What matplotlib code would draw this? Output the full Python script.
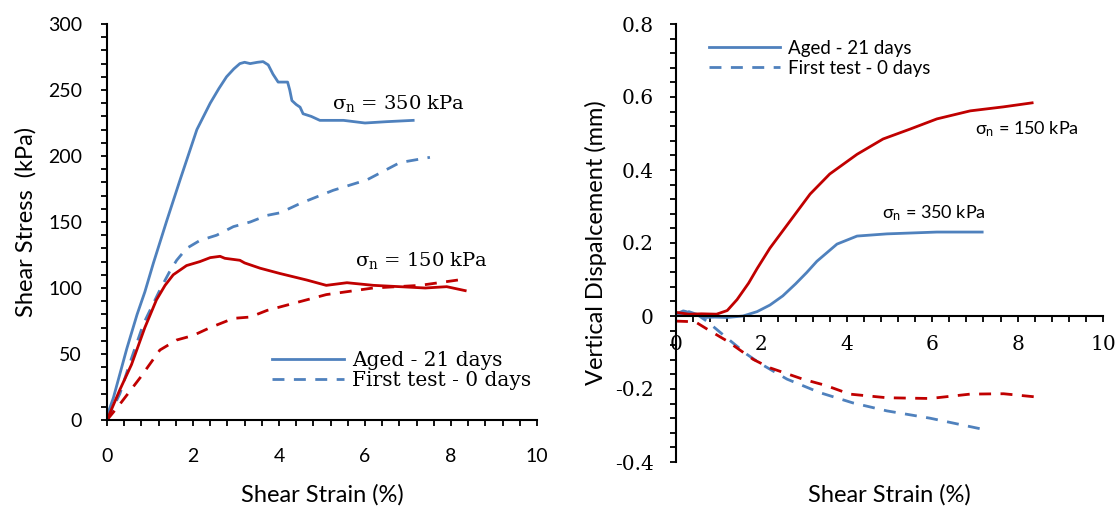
import numpy as np
import matplotlib
matplotlib.use('Agg')
import matplotlib.pyplot as plt
from matplotlib.ticker import MultipleLocator

# Shear stress vs strain (left)
aged350_x = [0, 0.15, 0.46, 0.7, 0.88, 1.08, 1.39, 1.70, 2.09, 2.40, 2.6, 2.78, 2.95, 3.09, 3.2, 3.33, 3.5, 3.63, 3.75, 3.86, 3.98, 4.1, 4.2, 4.25, 4.3, 4.4, 4.49, 4.56, 4.75, 4.95, 5.5, 6.0, 6.5, 7.12]
aged350_y = [3, 17, 54, 80, 97, 119, 151, 182, 220, 240, 251, 260, 266, 270, 271, 270, 271, 271.5, 269, 262, 256, 256, 256, 250, 242, 239, 237, 232, 230, 227, 227, 225, 226, 227]
first350_x = [0, 0.3, 0.53, 0.85, 1.23, 1.45, 1.62, 1.85, 2.16, 2.55, 2.94, 3.33, 3.72, 4.03, 4.49, 5.26, 6.05, 6.81, 7.51]
first350_y = [0, 20, 43, 73, 98.5, 112, 121, 130, 136, 140, 146.5, 150, 155, 157, 164, 174, 182, 195, 199]
aged150_x = [0, 0.3, 0.57, 0.88, 1.15, 1.35, 1.54, 1.85, 2.16, 2.40, 2.63, 2.74, 3.09, 3.2, 3.56, 4.02, 4.65, 5.1, 5.58, 6.2, 6.81, 7.4, 7.9, 8.33]
aged150_y = [0, 23, 42, 70, 91, 102, 110, 117, 120, 123, 124, 122.5, 121, 119, 115, 111, 106, 102, 104, 102, 101, 100, 101, 98]
first150_x = [0, 0.3, 0.77, 1.23, 1.62, 2.0, 2.4, 2.94, 3.33, 3.72, 4.18, 5.1, 6.19, 7.28, 8.37]
first150_y = [0, 12, 32, 53, 60.6, 64, 70, 77, 78, 83, 87, 95, 100, 102, 107]

# Vertical displacement vs strain (right)
vd_aged150_x = [0, 0.3, 0.6, 0.95, 1.2, 1.43, 1.7, 1.9, 2.2, 2.67, 3.14, 3.6, 4.24, 4.85, 5.48, 6.11, 6.89, 7.67, 8.34]
vd_aged150_y = [0.01, 0.005, 0.006, 0.005, 0.015, 0.045, 0.09, 0.13, 0.186, 0.26, 0.334, 0.389, 0.443, 0.485, 0.512, 0.54, 0.562, 0.573, 0.584]
vd_aged350_x = [0, 0.2, 0.3, 0.5, 0.7, 0.9, 1.2, 1.57, 1.9, 2.2, 2.5, 2.8, 3.06, 3.3, 3.77, 4.24, 4.94, 6.11, 7.17]
vd_aged350_y = [0.005, 0.006, 0.012, 0.004, -0.004, -0.003, -0.004, 0.0, 0.012, 0.03, 0.055, 0.088, 0.119, 0.15, 0.197, 0.219, 0.225, 0.23, 0.23]
vd_first150_x = [0, 0.25, 0.48, 0.8, 1.19, 1.81, 2.2, 2.97, 3.5, 4.07, 4.94, 5.95, 6.89, 7.67, 8.45]
vd_first150_y = [-0.014, -0.015, -0.018, -0.041, -0.068, -0.119, -0.142, -0.173, -0.19, -0.214, -0.224, -0.226, -0.214, -0.213, -0.222]
vd_first350_x = [0, 0.17, 0.48, 0.72, 1.19, 1.66, 1.97, 2.6, 3.37, 4.14, 4.94, 5.95, 7.17]
vd_first350_y = [0.005, 0.014, 0.005, -0.014, -0.06, -0.105, -0.13, -0.173, -0.21, -0.238, -0.26, -0.28, -0.31]

blue = '#4F81BD'
red = '#C00000'
sans = 'Lato'
serif = 'DejaVu Serif'
dash = (4.3, 3.4)

fig = plt.figure(figsize=(11.18, 5.08), dpi=100)

# ---- left chart
ax1 = fig.add_axes([107/1118, 88/508, 430/1118, 396/508])
ax1.plot(aged350_x, aged350_y, '-', color=blue, lw=2, label='Aged - 21 days')
ax1.plot(first350_x, first350_y, '--', dashes=dash, color=blue, lw=2, label='First test - 0 days')
ax1.plot(aged150_x, aged150_y, '-', color=red, lw=2)
ax1.plot(first150_x, first150_y, '--', dashes=dash, color=red, lw=2)
ax1.set_xlim(0, 10)
ax1.set_ylim(0, 300)
ax1.xaxis.set_major_locator(MultipleLocator(2))
ax1.xaxis.set_minor_locator(MultipleLocator(0.4))
ax1.yaxis.set_major_locator(MultipleLocator(50))
ax1.yaxis.set_minor_locator(MultipleLocator(10))
for s in ['top', 'right']:
    ax1.spines[s].set_visible(False)
for s in ['left', 'bottom']:
    ax1.spines[s].set_linewidth(1.5)
ax1.tick_params(which='both', direction='out', length=4, width=1.3, labelsize=14)
ax1.tick_params(axis='x', pad=16)
ax1.tick_params(axis='y', pad=14)
for lab in ax1.get_xticklabels() + ax1.get_yticklabels():
    lab.set_family(sans)
ax1.set_xlabel('Shear Strain (%)', fontsize=17, family=sans, labelpad=14)
ax1.set_ylabel('Shear Stress  (kPa)', fontsize=17, family=sans, labelpad=8)
ax1.text(5.23, 240, '$\\mathregular{σ_n}$ = 350 kPa', fontsize=14, family=serif, va='center')
ax1.text(5.77, 121, '$\\mathregular{σ_n}$ = 150 kPa', fontsize=14, family=serif, va='center')
ax1.legend(loc='upper left', bbox_to_anchor=(0.36, 0.2), frameon=False,
           prop={'family': serif, 'size': 14.5}, handlelength=3.6,
           handletextpad=0.4, labelspacing=0.05, borderpad=0)

# ---- right chart
ax2 = fig.add_axes([676/1118, 46/508, 427/1118, 438/508])
ax2.plot(vd_aged350_x, vd_aged350_y, '-', color=blue, lw=2, label='Aged - 21 days')
ax2.plot(vd_first350_x, vd_first350_y, '--', dashes=dash, color=blue, lw=2, label='First test - 0 days')
ax2.plot(vd_aged150_x, vd_aged150_y, '-', color=red, lw=2)
ax2.plot(vd_first150_x, vd_first150_y, '--', dashes=dash, color=red, lw=2)
ax2.set_xlim(0, 10)
ax2.set_ylim(-0.4, 0.8)
ax2.xaxis.set_major_locator(MultipleLocator(2))
ax2.xaxis.set_minor_locator(MultipleLocator(0.4))
ax2.yaxis.set_major_locator(MultipleLocator(0.2))
ax2.yaxis.set_minor_locator(MultipleLocator(0.04))
ax2.yaxis.set_major_formatter(plt.FuncFormatter(lambda v, p: '0' if abs(v) < 1e-9 else '%g' % v))
ax2.spines['bottom'].set_position(('data', 0))
for s in ['top', 'right']:
    ax2.spines[s].set_visible(False)
for s in ['left', 'bottom']:
    ax2.spines[s].set_linewidth(1.5)
ax2.tick_params(which='both', direction='out', length=4, width=1.3, labelsize=14.5)
ax2.tick_params(axis='x', pad=10)
ax2.tick_params(axis='y', pad=12)
for lab in ax2.get_xticklabels() + ax2.get_yticklabels():
    lab.set_family(serif)
ax2.set_xlabel('Shear Strain (%)', fontsize=17, family=sans)
ax2.xaxis.set_label_coords(0.5, -0.05)
ax2.set_ylabel('Vertical Dispalcement (mm)', fontsize=17, family=sans, labelpad=6)
ax2.text(7.0, 0.512, '$\\mathregular{σ_n}$ = 150 kPa', fontsize=13, family=sans, va='center')
ax2.text(4.82, 0.282, '$\\mathregular{σ_n}$ = 350 kPa', fontsize=13, family=sans, va='center')
ax2.legend(loc='upper left', bbox_to_anchor=(0.055, 0.985), frameon=False,
           prop={'family': sans, 'size': 13.5}, handlelength=3.8,
           handletextpad=0.4, labelspacing=0.15, borderpad=0)

fig.savefig('out.png', dpi=100)
